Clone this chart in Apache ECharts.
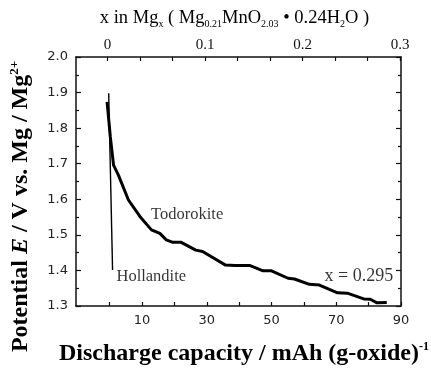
<!DOCTYPE html>
<html>
<head>
<meta charset="utf-8">
<script src="https://cdn.jsdelivr.net/npm/echarts@6/dist/echarts.min.js"></script>
<style>
  html, body { margin: 0; padding: 0; background: #fff; }
  #chart { width: 431px; height: 372px; }
</style>
</head>
<body>
<div id="chart"></div>
<script>
// Todorokite discharge curve (capacity mAh/g, potential V)
const capTodo = [-0.8, 0.2, 1.2, 2.7, 5.8, 9.4, 12.9, 15.5, 17.5, 19.5, 22.1, 26.6, 28.7,
  35.8, 38.8, 43.2, 47.4, 50.0, 55.1, 57.1, 61.7, 64.8, 70.4, 73.4, 78.5, 80.5, 82.6, 85.6];
const potTodo = [1.874, 1.776, 1.696, 1.668, 1.598, 1.551, 1.514, 1.504, 1.486, 1.479, 1.479, 1.457, 1.453,
  1.415, 1.414, 1.414, 1.399, 1.399, 1.378, 1.376, 1.361, 1.359, 1.337, 1.336, 1.320, 1.319, 1.309, 1.310];

// Hollandite discharge curve
const capHoll = [-0.3, 0.9];
const potHoll = [1.898, 1.401];

// annotations
const noteCap = [12.8, 2.1, 87.6];
const notePot = [1.556, 1.382, 1.384];
const noteText = ["Todorokite", "Hollandite", "x = 0.295"];
const notePos = ["right", "right", "left"];

// tick values
const bottomTicks = [0, 10, 20, 30, 40, 50, 60, 70, 80, 90];
const bottomLabels = [10, 30, 50, 70, 90];
const topTicks = [0, 1, 2, 3, 4, 5, 6, 7, 8, 9].map((i) => i / 30).concat([0.3]);
const topLabels = [0, 0.1, 0.2, 0.3];

const serif = "Liberation Serif";
const sans = "DejaVu Sans";
const ink = "#111";

const zip = (xs, ys) => xs.map((x, i) => [x, ys[i]]);

const chart = echarts.init(document.getElementById("chart"));

const yAxisBase = {
  type: "value",
  min: 1.3,
  max: 2.0,
  interval: 0.1,
  axisLine: { show: true, onZero: false, lineStyle: { color: ink, width: 1.5 } },
  axisTick: { show: true, inside: true, length: 5, lineStyle: { color: ink, width: 1.2 } },
  minorTick: { show: true, splitNumber: 2, length: 3, lineStyle: { color: ink, width: 1.2 } },
  splitLine: { show: false },
};

chart.setOption({
  animation: false,
  backgroundColor: "#fff",
  grid: { left: 72, right: 30, top: 57, bottom: 66 },
  xAxis: [
    {
      type: "value",
      position: "bottom",
      min: -10.4,
      max: 90,
      axisLine: { onZero: false, lineStyle: { color: ink, width: 1.5 } },
      axisTick: { inside: true, length: 4, customValues: bottomTicks, lineStyle: { color: ink, width: 1.2 } },
      axisLabel: {
        customValues: bottomLabels,
        margin: 8,
        color: "#222",
        fontFamily: sans,
        fontSize: 13,
      },
      splitLine: { show: false },
      name: "{b|Discharge capacity / mAh (g-oxide)}{sup|-1}",
      nameLocation: "middle",
      nameGap: 35,
      nameTextStyle: {
        padding: [0, 0, 0, 11],
        rich: {
          b: { fontFamily: serif, fontWeight: "bold", fontSize: 24, color: "#000", lineHeight: 26 },
          sup: { fontFamily: serif, fontWeight: "bold", fontSize: 12, color: "#000", verticalAlign: "top", lineHeight: 26 },
        },
      },
    },
    {
      type: "value",
      position: "top",
      min: -0.0324,
      max: 0.301,
      axisLine: { onZero: false, lineStyle: { color: ink, width: 1.5 } },
      axisTick: { inside: true, length: 4, customValues: topTicks, lineStyle: { color: ink, width: 1.2 } },
      axisLabel: {
        customValues: topLabels,
        margin: 4,
        color: "#111",
        fontFamily: serif,
        fontSize: 15,
        formatter: (v) => String(+v.toFixed(2)),
      },
      splitLine: { show: false },
      name: "{t|x in Mg}{s|x}{t| ( Mg}{s|0.21}{t|MnO}{s|2.03}{t| • 0.24H}{s|2}{t|O )}",
      nameLocation: "middle",
      nameGap: 28,
      nameTextStyle: {
        padding: [0, 8, 0, 0],
        rich: {
          t: { fontFamily: serif, fontSize: 18.5, color: "#000", lineHeight: 21 },
          s: { fontFamily: serif, fontSize: 10, color: "#000", verticalAlign: "bottom", lineHeight: 21 },
        },
      },
    },
  ],
  yAxis: [
    Object.assign({}, yAxisBase, {
      position: "left",
      axisLabel: {
        margin: 8,
        color: "#222",
        fontFamily: sans,
        fontSize: 13,
        formatter: (v) => v.toFixed(1),
      },
      name: "{b|Potential }{i|E}{b| / V vs. Mg / Mg}{sup|2+}",
      nameLocation: "middle",
      nameRotate: 90,
      nameGap: 42,
      nameTextStyle: {
        padding: [0, 50, 0, 0],
        rich: {
          b: { fontFamily: serif, fontWeight: "bold", fontSize: 24, color: "#000", lineHeight: 26 },
          i: { fontFamily: serif, fontWeight: "bold", fontStyle: "italic", fontSize: 24, color: "#000", lineHeight: 26 },
          sup: { fontFamily: serif, fontWeight: "bold", fontSize: 13, color: "#000", verticalAlign: "top", lineHeight: 26 },
        },
      },
    }),
    Object.assign({}, yAxisBase, {
      position: "right",
      axisLabel: { show: false },
    }),
  ],
  series: [
    {
      name: "Todorokite",
      type: "line",
      data: zip(capTodo, potTodo),
      symbol: "none",
      lineStyle: { color: "#000", width: 3 },
      silent: true,
    },
    {
      name: "Hollandite",
      type: "line",
      data: zip(capHoll, potHoll),
      symbol: "none",
      lineStyle: { color: "#000", width: 1.4 },
      silent: true,
    },
    {
      name: "notes",
      type: "scatter",
      symbolSize: 0,
      silent: true,
      data: noteText.map((t, i) => ({
        value: [noteCap[i], notePot[i]],
        label: {
          show: true,
          formatter: t,
          position: notePos[i],
          distance: 0,
          fontFamily: serif,
          fontSize: i === 2 ? 18 : 16.5,
          color: "#000",
        },
      })),
    },
  ],
});
</script>
</body>
</html>
